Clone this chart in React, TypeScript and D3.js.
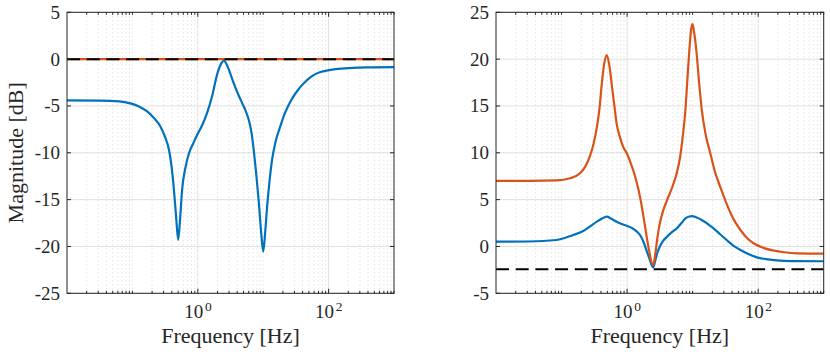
import React from "react";
import * as d3 from "d3";

// frequency [Hz] / magnitude [dB]
const leftBlueFreq = [0.01, 0.0316, 0.0631, 0.0933, 0.126, 0.17, 0.214, 0.269, 0.316, 0.363, 0.398, 0.432, 0.468, 0.501, 0.537, 0.575, 0.646, 0.733, 0.851, 0.977, 1.175, 1.38, 1.66, 1.995, 2.291, 2.512, 2.818, 3.548, 4.169, 4.786, 5.37, 6.026, 6.607, 7.161, 7.762, 8.511, 9.333, 10.0, 10.72, 11.48, 12.59, 13.65, 15.49, 18.2, 21.38, 26.0, 33.1, 41.7, 52.5, 66.1, 89.1, 120, 200, 389, 1000];
const leftBlueMag = [-4.4, -4.42, -4.5, -4.72, -5.05, -5.61, -6.3, -7.21, -8.3, -9.7, -11.5, -13.97, -17.0, -19.3, -17.0, -13.97, -11.6, -10.05, -9.0, -8.1, -7.0, -5.79, -3.9, -1.52, -0.45, -0.15, -0.7, -2.58, -3.8, -4.72, -5.5, -6.5, -7.8, -9.7, -12.0, -15.04, -18.6, -20.55, -18.5, -15.75, -12.8, -10.77, -8.8, -7.21, -5.8, -4.54, -3.4, -2.58, -1.95, -1.52, -1.25, -1.09, -0.97, -0.88, -0.85];
const leftOrangeFreq = [0.01, 1000];
const leftOrangeMag = [0, 0];
const leftDashFreq = [0.01, 1000];
const leftDashMag = [0, 0];

const rightOrangeFreq = [0.01, 0.0316, 0.0832, 0.135, 0.191, 0.229, 0.269, 0.309, 0.347, 0.38, 0.407, 0.447, 0.49, 0.537, 0.589, 0.646, 0.692, 0.776, 0.871, 1.0, 1.122, 1.259, 1.413, 1.585, 1.778, 1.995, 2.188, 2.344, 2.512, 2.692, 2.884, 3.162, 3.548, 4.074, 4.571, 5.129, 5.754, 6.457, 7.079, 7.762, 8.318, 8.913, 9.55, 10.0, 10.47, 11.38, 12.59, 13.8, 15.85, 18.62, 21.88, 26.3, 31.6, 38.0, 44.7, 53.7, 67.6, 85.1, 120, 174, 251, 398, 1000];
const rightOrangeMag = [7.0, 7.0, 7.05, 7.28, 7.81, 8.5, 9.58, 11.0, 12.79, 14.8, 17.05, 19.5, 20.44, 19.3, 17.05, 14.8, 13.15, 11.7, 10.65, 9.9, 9.0, 8.0, 6.74, 5.2, 3.2, 1.0, -0.6, -1.6, -1.97, -0.8, 0.8, 2.48, 3.8, 4.96, 5.8, 6.74, 7.9, 9.58, 11.8, 14.57, 17.8, 20.97, 23.3, 23.75, 23.0, 20.97, 17.4, 14.57, 11.9, 9.95, 8.0, 6.38, 4.9, 3.54, 2.6, 1.76, 0.9, 0.34, -0.15, -0.45, -0.62, -0.73, -0.77];
const rightBlueFreq = [0.01, 0.0316, 0.0832, 0.151, 0.214, 0.269, 0.355, 0.447, 0.49, 0.575, 0.692, 0.832, 1.0, 1.202, 1.413, 1.585, 1.778, 1.995, 2.188, 2.344, 2.512, 2.692, 2.884, 3.162, 3.548, 4.074, 4.786, 5.754, 6.761, 7.762, 8.913, 9.772, 11.48, 13.8, 16.98, 20.9, 26.3, 33.1, 41.7, 53.7, 70.8, 95.5, 141, 219, 398, 1000];
const rightBlueMag = [0.51, 0.53, 0.69, 1.23, 1.65, 2.12, 2.7, 3.1, 3.18, 2.95, 2.65, 2.4, 2.19, 1.95, 1.58, 1.2, 0.5, -0.5, -1.26, -1.9, -2.22, -1.5, -0.7, 0.0, 0.6, 1.05, 1.5, 1.94, 2.5, 3.0, 3.2, 3.25, 3.1, 2.83, 2.4, 1.94, 1.3, 0.69, 0.1, -0.37, -0.8, -1.16, -1.38, -1.51, -1.56, -1.58];
const rightDashFreq = [0.01, 1000];
const rightDashMag = [-2.42, -2.42];

const leftYTicks = [5, 0, -5, -10, -15, -20, -25];
const rightYTicks = [25, 20, 15, 10, 5, 0, -5];
const xMajorTicks = [1, 100];
const xTickExponents = ["0", "2"];

const blue = "#0072BD";
const orange = "#D95319";
const axisColor = "#262626";
const textStyle = { fontFamily: "Liberation Serif" };

type Series = { freq: number[]; mag: number[]; color: string; dash?: string };

function Panel({ left, right, yDomain, yTicks, series, yLabel, id }: {
  left: number; right: number; yDomain: [number, number]; yTicks: number[];
  series: Series[]; yLabel?: string; id: string;
}) {
  const top = 12.3;
  const bottom = 293.3;
  const x = d3.scaleLog().domain([0.01, 1000]).range([left, right]);
  const y = d3.scaleLinear().domain(yDomain).range([bottom, top]);

  const minor: number[] = [];
  for (let e = -2; e < 3; e++) {
    for (let k = 1; k < 10; k++) {
      const v = k * Math.pow(10, e);
      if (!xMajorTicks.includes(v) && v > 0.01) minor.push(v);
    }
  }
  minor.push(1000);

  const line = d3.line<[number, number]>()
    .x(d => x(d[0]))
    .y(d => y(d[1]))
    .curve(d3.curveMonotoneX);

  return (
    <g>
      <defs>
        <clipPath id={id}>
          <rect x={left} y={top} width={right - left} height={bottom - top} />
        </clipPath>
      </defs>
      {yTicks.map(t => (
        <line key={"gy" + t} x1={left} x2={right} y1={y(t)} y2={y(t)} stroke="#e0e0e0" strokeWidth={1} />
      ))}
      {minor.map(m => (
        <line key={"gm" + m} x1={x(m)} x2={x(m)} y1={top} y2={bottom} stroke="#cfcfcf" strokeWidth={0.8} strokeDasharray="1 3" />
      ))}
      {xMajorTicks.map(t => (
        <line key={"gx" + t} x1={x(t)} x2={x(t)} y1={top} y2={bottom} stroke="#e0e0e0" strokeWidth={1} />
      ))}
      <g clipPath={`url(#${id})`}>
        {series.map((s, i) => (
          <path key={i}
            d={line(s.freq.map((f, j) => [f, s.mag[j]] as [number, number])) || ""}
            fill="none" stroke={s.color} strokeWidth={s.dash ? 2 : 2.2}
            strokeDasharray={s.dash} strokeLinejoin="round" />
        ))}
      </g>
      <rect x={left} y={top} width={right - left} height={bottom - top} fill="none" stroke={axisColor} strokeWidth={1} />
      {yTicks.map(t => (
        <g key={"ty" + t}>
          <line x1={left} x2={left + 4} y1={y(t)} y2={y(t)} stroke={axisColor} />
          <line x1={right} x2={right - 4} y1={y(t)} y2={y(t)} stroke={axisColor} />
          <text x={left - 7} y={y(t)} dy="0.34em" textAnchor="end" fontSize={19} style={textStyle} fill={axisColor}>
            {t < 0 ? "-" + Math.abs(t) : t}
          </text>
        </g>
      ))}
      {minor.map(m => (
        <g key={"tm" + m}>
          <line x1={x(m)} x2={x(m)} y1={bottom} y2={bottom - 2.5} stroke={axisColor} />
          <line x1={x(m)} x2={x(m)} y1={top} y2={top + 2.5} stroke={axisColor} />
        </g>
      ))}
      {xMajorTicks.map((t, i) => (
        <g key={"tx" + t}>
          <line x1={x(t)} x2={x(t)} y1={bottom} y2={bottom - 4.5} stroke={axisColor} />
          <line x1={x(t)} x2={x(t)} y1={top} y2={top + 4.5} stroke={axisColor} />
          <text x={x(t) - 4} y={318} textAnchor="middle" fontSize={19} style={textStyle} fill={axisColor}>10</text>
          <text x={x(t) + 10.5} y={311} textAnchor="middle" fontSize={13.5} style={textStyle} fill={axisColor}>{xTickExponents[i]}</text>
        </g>
      ))}
      <text x={(left + right) / 2} y={343} textAnchor="middle" fontSize={22} style={textStyle} fill={axisColor}>Frequency [Hz]</text>
      {yLabel && (
        <text transform={`translate(23,${(top + bottom) / 2}) rotate(-90)`} textAnchor="middle" fontSize={22} style={textStyle} fill={axisColor}>{yLabel}</text>
      )}
    </g>
  );
}

export default function App() {
  return (
    <svg width={830} height={354} style={{ position: "absolute", left: 0, top: 0, background: "#fff" }}>
      <Panel id="clipL" left={67} right={394} yDomain={[-25, 5]} yTicks={leftYTicks} yLabel="Magnitude [dB]"
        series={[
          { freq: leftBlueFreq, mag: leftBlueMag, color: blue },
          { freq: leftOrangeFreq, mag: leftOrangeMag, color: orange },
          { freq: leftDashFreq, mag: leftDashMag, color: "#000", dash: "13 6.7" },
        ]} />
      <Panel id="clipR" left={496} right={823.7} yDomain={[-5, 25]} yTicks={rightYTicks}
        series={[
          { freq: rightBlueFreq, mag: rightBlueMag, color: blue },
          { freq: rightOrangeFreq, mag: rightOrangeMag, color: orange },
          { freq: rightDashFreq, mag: rightDashMag, color: "#000", dash: "13 6.7" },
        ]} />
    </svg>
  );
}
